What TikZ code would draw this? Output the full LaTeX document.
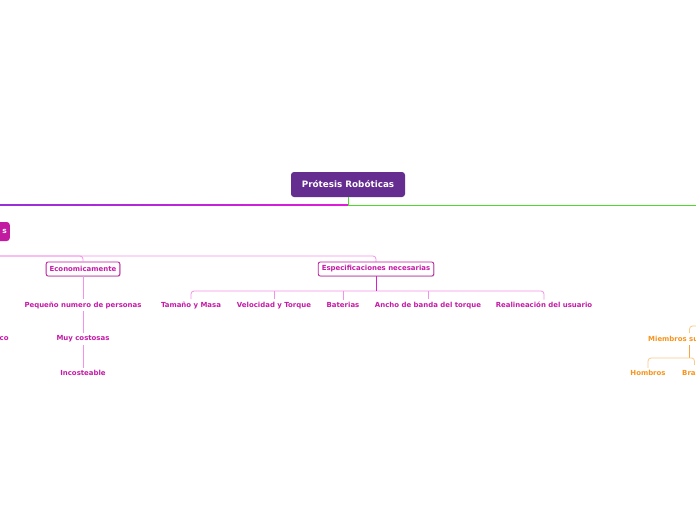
\documentclass[tikz,border=0pt]{standalone}
\usepackage{fontspec}
\setmainfont{DejaVu Sans}
\usetikzlibrary{shadows}
\definecolor{rootc}{HTML}{662D91}
\definecolor{magc}{HTML}{C21AA0}
\definecolor{magt}{HTML}{C41BA6}
\definecolor{pinkl}{HTML}{F292E8}
\definecolor{pinkd}{HTML}{D81FCB}
\definecolor{grn}{HTML}{4CDB2A}
\definecolor{violetl}{HTML}{9630D8}
\definecolor{magl}{HTML}{E01BDA}
\definecolor{orgt}{HTML}{F7941D}
\definecolor{orgl}{HTML}{FBCB8A}
\definecolor{orgd}{HTML}{F8A440}
\tikzset{
  rootbox/.style={fill=rootc, rounded corners=3pt, text=white, font=\bfseries\fontsize{8.8}{10}\selectfont, minimum width=114pt, minimum height=25pt, inner sep=0pt},
  mainbox/.style={fill=magc, rounded corners=3pt, text=white, font=\bfseries\fontsize{7.5}{9}\selectfont, minimum height=19pt, text width=30pt, align=right, inner xsep=3pt, inner ysep=0pt},
  subbox/.style={draw=magc, line width=0.8pt, fill=white, rounded corners=2pt, text=magt, font=\bfseries\fontsize{6.95}{8}\selectfont, minimum height=14pt, inner xsep=3.5pt, inner ysep=0pt, drop shadow={opacity=0.3, shadow xshift=0.8pt, shadow yshift=-0.8pt}},
  leaf/.style={text=magt, font=\bfseries\fontsize{6.95}{8}\selectfont, inner xsep=1pt, inner ysep=2.5pt, yshift=-1.2pt},
  oleaf/.style={text=orgt, font=\bfseries\fontsize{6.95}{8}\selectfont, inner xsep=1pt, inner ysep=2.5pt, yshift=-1.2pt},
  branch/.style={draw=pinkl, line width=0.8pt},
  dbranch/.style={draw=pinkd, line width=0.9pt},
  obranch/.style={draw=orgl, line width=0.8pt},
  odbranch/.style={draw=orgd, line width=0.9pt},
}
\begin{document}
\begin{tikzpicture}[x=1pt,y=-1pt]
\useasboundingbox (0,0) rectangle (696,520);
\clip (0,0) rectangle (696,520);
\fill[white] (0,0) rectangle (696,520);

% root and main line
\node[rootbox] (root) at (348,184.5) {Prótesis Robóticas};
\coordinate (hub) at (348,205);
\coordinate (rightend) at (700,205);
\coordinate (leftend) at (0,205);
\shade[left color=violetl, right color=magl] (0,204.4) rectangle (348,205.6);
\draw[grn, line width=1pt] (root.south) -- (hub) -- (rightend);

% left main node (clipped)
\node[mainbox, anchor=east] (lim) at (10,231.5) {s};
\coordinate (bus) at (0,256);
\draw[branch, rounded corners=3pt] (lim.south) |- (376,256) -- (376,262);

% Economicamente branch
\node[subbox] (econ) at (83,269) {Economicamente};
\draw[branch, rounded corners=3pt] (lim.south) |- (econ.north |- bus) -- (econ.north);
\node[leaf] (peq) at (83,304) {Pequeño numero de personas};
\node[leaf] (muy) at (83,338) {Muy costosas};
\node[leaf] (inc) at (83,372) {Incosteable};
\draw[branch] (econ.south) -- (peq.north);
\draw[branch] (peq.south) -- (muy.north);
\draw[branch] (muy.south) -- (inc.north);

% Especificaciones branch
\node[subbox] (spec) at (376,269) {Especificaciones necesarias};
\coordinate (specbus) at (376,291);
\node[leaf] (tam) at (191,304) {Tamaño y Masa};
\node[leaf] (vel) at (274,304) {Velocidad y Torque};
\node[leaf] (bat) at (343,304) {Baterias};
\node[leaf] (anc) at (428,304) {Ancho de banda del torque};
\node[leaf] (rea) at (544,304) {Realineación del usuario};
\draw[branch, rounded corners=3pt] (tam.north) |- (specbus) -| (rea.north);
\draw[branch] (vel.north) -- (vel.north |- specbus);
\draw[branch] (bat.north) -- (bat.north |- specbus);
\draw[branch] (anc.north) -- (anc.north |- specbus);
\draw[dbranch] (spec.south) -- (specbus);

% left leaf
\node[leaf, anchor=west, inner xsep=0pt] (co) at (-0.5,337) {co};

% orange branch (right, clipped)
\node[oleaf, anchor=west] (miem) at (647,338) {Miembros superiores};
\coordinate (mx) at (689.5,338);
\coordinate (opar) at (720,326);
\coordinate (obus) at (689.5,358);
\node[oleaf] (hom) at (648,372) {Hombros};
\node[oleaf, anchor=west] (bra) at (681,372) {Brazos};
\draw[obranch, rounded corners=3pt] (mx |- miem.north) |- (opar);
\draw[odbranch] (mx |- miem.south) -- (obus);
\draw[obranch, rounded corners=3pt] (hom.north) |- (obus) -| (694.5,365);
\end{tikzpicture}
\end{document}
